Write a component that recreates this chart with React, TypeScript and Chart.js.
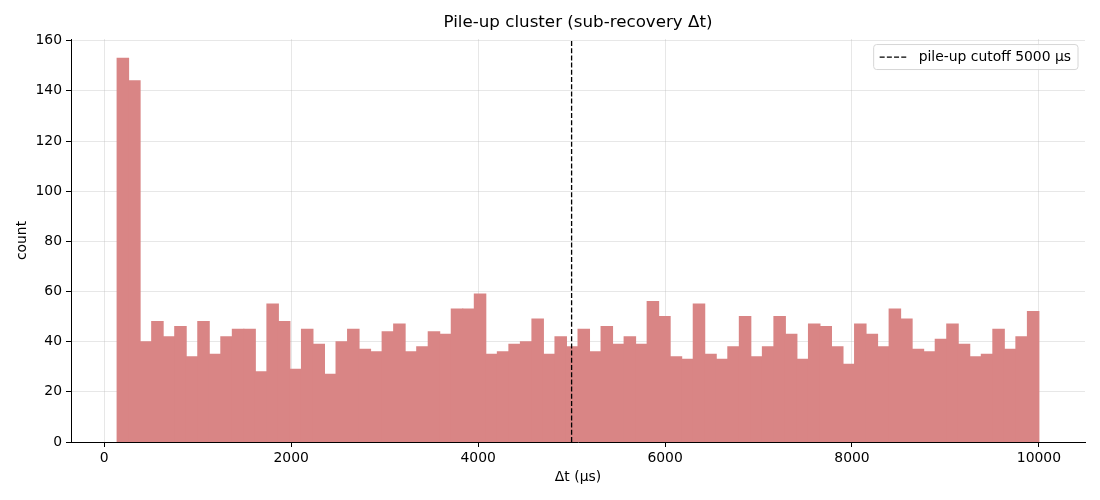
import { useEffect, useRef } from 'react';
import { Chart, registerables } from 'chart.js';

Chart.register(...registerables);

// histogram bins (µs)
const binStart = 137;
const binEnd = 10000;
const counts = [
  153, 144, 40, 48, 42, 46, 34, 48, 35, 42, 45, 45, 28, 55, 48, 29, 45, 39, 27, 40,
  45, 37, 36, 44, 47, 36, 38, 44, 43, 53, 53, 59, 35, 36, 39, 40, 49, 35, 42, 38,
  45, 36, 46, 39, 42, 39, 56, 50, 34, 33, 55, 35, 33, 38, 50, 34, 38, 50, 43, 33,
  47, 46, 38, 31, 47, 43, 38, 53, 49, 37, 36, 41, 47, 39, 34, 35, 45, 37, 42, 52,
];
const cutoff = 5000;
const xTicks = [0, 2000, 4000, 6000, 8000, 10000];
const yTicks = [0, 20, 40, 60, 80, 100, 120, 140, 160];

const FONT = '"DejaVu Sans", sans-serif';
const binWidth = (binEnd - binStart) / counts.length;
const xMin = binStart - 0.05 * (binEnd - binStart);
const xMax = binEnd + 0.05 * (binEnd - binStart);
const yMax = Math.max(...counts) * 1.05;

const legendBox = {
  id: 'legendBox',
  afterDraw(chart: Chart) {
    const { ctx, chartArea } = chart;
    const ds: any = chart.data.datasets[1];
    ctx.save();
    ctx.font = `13.9px ${FONT}`;
    const textW = ctx.measureText(ds.label).width;
    const right = chartArea.right - 7;
    const top = chartArea.top + 5.5;
    const h = 25;
    const left = right - textW - 52;
    ctx.beginPath();
    ctx.roundRect(left, top, right - left, h, 3);
    ctx.fillStyle = 'rgba(255,255,255,0.8)';
    ctx.fill();
    ctx.strokeStyle = '#d6d6d6';
    ctx.lineWidth = 1;
    ctx.stroke();
    ctx.beginPath();
    ctx.setLineDash(ds.borderDash);
    ctx.strokeStyle = ds.borderColor;
    ctx.lineWidth = ds.borderWidth;
    ctx.moveTo(left + 6, top + h / 2);
    ctx.lineTo(left + 33, top + h / 2);
    ctx.stroke();
    ctx.setLineDash([]);
    ctx.fillStyle = '#000';
    ctx.textBaseline = 'middle';
    ctx.fillText(ds.label, left + 45, top + h / 2 + 0.5);
    ctx.restore();
  },
};

const App = () => {
  const chartRef = useRef<HTMLCanvasElement>(null);
  const chartInstance = useRef<Chart>();

  useEffect(() => {
    if (chartInstance.current) {
      chartInstance.current.destroy();
    }
    const ctx = chartRef.current?.getContext('2d');
    if (!ctx) return;

    const bars = counts.map((c, i) => ({ x: binStart + (i + 0.5) * binWidth, y: c }));

    chartInstance.current = new Chart(ctx, {
      type: 'bar',
      data: {
        datasets: [
          {
            type: 'bar',
            label: 'count',
            data: bars,
            backgroundColor: '#d98585',
            borderWidth: 0,
            barPercentage: 1,
            categoryPercentage: 1,
            inflateAmount: 0.5,
            order: 2,
          },
          {
            type: 'line',
            label: `pile-up cutoff ${cutoff} µs`,
            data: [
              { x: cutoff, y: 0 },
              { x: cutoff, y: yMax },
            ],
            borderColor: '#000',
            borderWidth: 1.3,
            borderDash: [5, 2.2],
            pointRadius: 0,
            fill: false,
            order: 1,
          },
        ],
      } as any,
      options: {
        responsive: false,
        animation: false,
        layout: { padding: { left: 0, right: 15, top: 0, bottom: 0 } },
        plugins: {
          legend: { display: false },
          tooltip: { enabled: false },
          title: {
            display: true,
            text: 'Pile-up cluster (sub-recovery Δt)',
            fullSize: false,
            color: '#000',
            font: { family: FONT, size: 16.7, weight: 'normal' },
            padding: { top: 13, bottom: 6 },
          },
        },
        scales: {
          x: {
            type: 'linear',
            min: xMin,
            max: xMax,
            offset: false,
            afterBuildTicks: (scale: any) => {
              scale.ticks = xTicks.map((v) => ({ value: v }));
            },
            afterFit: (scale: any) => {
              scale.height = 58;
            },
            ticks: {
              color: '#000',
              font: { family: FONT, size: 13.9 },
              padding: 3,
              maxRotation: 0,
              minRotation: 0,
              autoSkip: false,
              callback: (v: any) => String(v),
            },
            grid: {
              offset: false,
              color: 'rgba(176,176,176,0.3)',
              tickColor: '#000',
              tickLength: 5,
              tickWidth: 1,
            },
            border: { color: '#000', width: 1 },
            title: {
              display: true,
              text: 'Δt (µs)',
              color: '#000',
              font: { family: FONT, size: 13.9 },
              padding: { top: 4, bottom: 14 },
            },
          },
          y: {
            type: 'linear',
            min: 0,
            max: yMax,
            afterBuildTicks: (scale: any) => {
              scale.ticks = yTicks.map((v) => ({ value: v }));
            },
            afterFit: (scale: any) => {
              scale.width = 71;
            },
            ticks: {
              color: '#000',
              font: { family: FONT, size: 13.9 },
              padding: 4,
              autoSkip: false,
              callback: (v: any) => String(v),
            },
            grid: {
              color: 'rgba(176,176,176,0.3)',
              tickColor: '#000',
              tickLength: 5,
              tickWidth: 1,
            },
            border: { color: '#000', width: 1 },
            title: {
              display: true,
              text: 'count',
              color: '#000',
              font: { family: FONT, size: 13.9 },
              padding: { top: 14, bottom: 4 },
            },
          },
        },
      },
      plugins: [legendBox],
    });

    return () => {
      if (chartInstance.current) {
        chartInstance.current.destroy();
        chartInstance.current = undefined;
      }
    };
  }, []);

  return (
    <div style={{ position: 'absolute', left: 0, top: 0, width: 1100, height: 500, background: '#fff' }}>
      <canvas ref={chartRef} width={1100} height={500} />
    </div>
  );
};

export default App;
